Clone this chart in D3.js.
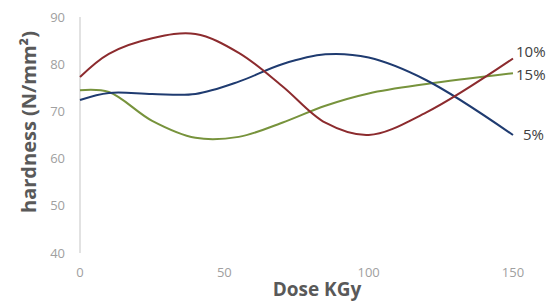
<!DOCTYPE html>
<html>
<head>
<meta charset="utf-8">
<script src="https://d3js.org/d3.v7.min.js"></script>
<style>
  body { margin: 0; background: #fff; }
  text { font-family: "Open Sans", sans-serif; }
</style>
</head>
<body>
<div id="chart"></div>
<script>
// doses (KGy) and hardness (N/mm2) for each series
var doses = [0, 10, 25, 40, 55, 70, 85, 100, 120, 150];
var s5 = [72.4, 73.9, 73.7, 73.7, 76.3, 80.0, 82.1, 81.4, 76.6, 65.0];
var s10 = [77.3, 82.2, 85.5, 86.4, 82.4, 75.4, 67.6, 65.0, 69.8, 81.2];
var s15 = [74.5, 74.1, 68.0, 64.4, 64.6, 67.6, 71.2, 73.8, 75.8, 78.1];
var names = ["5%", "10%", "15%"];
var xTicks = [0, 50, 100, 150];
var yTicks = [40, 50, 60, 70, 80, 90];

var W = 550, H = 302;
var svg = d3.select("#chart").append("svg").attr("width", W).attr("height", H);

var x = d3.scaleLinear().domain([0, 150]).range([80, 513]);
var y = d3.scaleLinear().domain([40, 90]).range([253, 17]);

// y axis: thin grey line, no tick marks
svg.append("line")
  .attr("x1", x(0)).attr("x2", x(0))
  .attr("y1", y(90)).attr("y2", y(40))
  .attr("stroke", "#d9d9d9").attr("stroke-width", 1.5);

svg.selectAll(".ytick").data(yTicks).enter().append("text")
  .attr("x", 65).attr("y", d => y(d) + 4.5)
  .attr("text-anchor", "end")
  .attr("fill", "#a0a0a0").style("font-size", "13px")
  .text(d => d);

svg.selectAll(".xtick").data(xTicks).enter().append("text")
  .attr("x", d => x(d)).attr("y", 277)
  .attr("text-anchor", "middle")
  .attr("fill", "#a0a0a0").style("font-size", "13px")
  .text(d => d);

var series = [
  {name: names[0], vals: s5, color: "#1f3b70", lx: 523, ly: 140},
  {name: names[1], vals: s10, color: "#8c2b2e", lx: 516, ly: 57},
  {name: names[2], vals: s15, color: "#77933c", lx: 516, ly: 80}
];

var line = d3.line().curve(d3.curveCatmullRom.alpha(0.5))
  .x(d => x(d[0])).y(d => y(d[1]));

// draw order: green, blue, red
[series[2], series[0], series[1]].forEach(function(s) {
  svg.append("path")
    .datum(doses.map((d, i) => [d, s.vals[i]]))
    .attr("d", line)
    .attr("fill", "none")
    .attr("stroke", s.color)
    .attr("stroke-width", 2);
});

series.forEach(function(s) {
  svg.append("text")
    .attr("x", s.lx).attr("y", s.ly)
    .attr("fill", "#404040").style("font-size", "15px")
    .text(s.name);
});

svg.append("text")
  .attr("x", 317).attr("y", 296)
  .attr("text-anchor", "middle")
  .attr("fill", "#595959").style("font-size", "19px").style("font-weight", "bold")
  .text("Dose KGy");

svg.append("text")
  .attr("transform", "translate(36,122) rotate(-90)")
  .attr("text-anchor", "middle")
  .attr("fill", "#595959").style("font-size", "20px").style("font-weight", "bold")
  .text("hardness (N/mm²)");
</script>
</body>
</html>
